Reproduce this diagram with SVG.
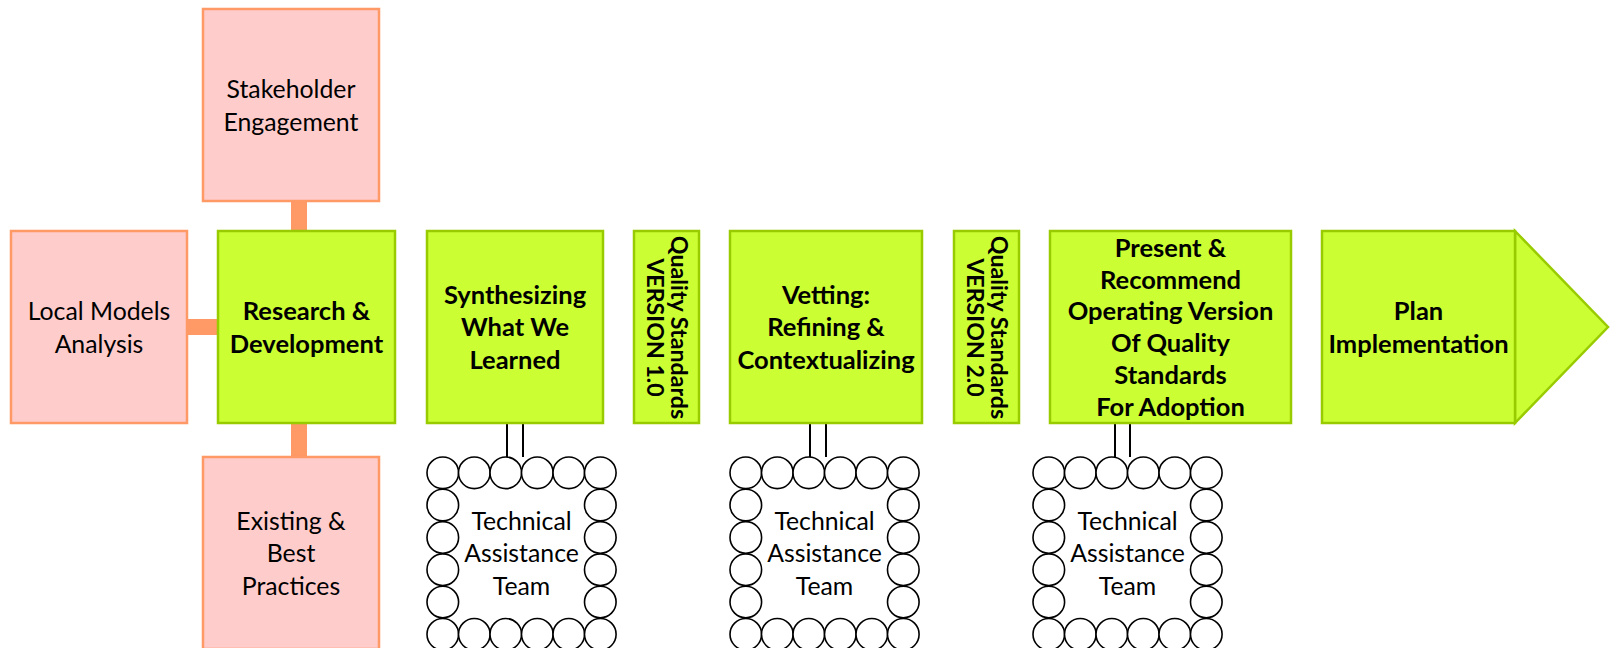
<svg xmlns="http://www.w3.org/2000/svg" xmlns:xlink="http://www.w3.org/1999/xlink" width="1610" height="648" viewBox="0 0 1610 648">
<style>
.pink{fill:#FFCCCC;stroke:#FF9966;stroke-width:2.5}
.green{fill:#CCFF33;stroke:#99CC00;stroke-width:2.5}
.bar{fill:#FF9966;stroke:none}
.ring circle{fill:#FFFFFF;stroke:#000000;stroke-width:1.6}
.wire{stroke:#000000;stroke-width:2;fill:none}
text{font-family:Lato,"Liberation Sans",sans-serif;font-size:24.8px;fill:#000000;text-anchor:middle}
.b{font-weight:bold;font-size:25.5px}
.v{font-size:23.2px;font-weight:bold}
</style>
<defs>
<g id="ring" class="ring">
<circle cx="15.8" cy="15.8" r="15.8"/><circle cx="47.3" cy="15.8" r="15.8"/><circle cx="78.8" cy="15.8" r="15.8"/><circle cx="110.3" cy="15.8" r="15.8"/><circle cx="141.8" cy="15.8" r="15.8"/><circle cx="173.3" cy="15.8" r="15.8"/>
<circle cx="15.8" cy="48.1" r="15.8"/><circle cx="15.8" cy="80.4" r="15.8"/><circle cx="15.8" cy="112.7" r="15.8"/><circle cx="15.8" cy="145" r="15.8"/>
<circle cx="173.3" cy="48.1" r="15.8"/><circle cx="173.3" cy="80.4" r="15.8"/><circle cx="173.3" cy="112.7" r="15.8"/><circle cx="173.3" cy="145" r="15.8"/>
<circle cx="15.8" cy="177.3" r="15.8"/><circle cx="47.3" cy="177.3" r="15.8"/><circle cx="78.8" cy="177.3" r="15.8"/><circle cx="110.3" cy="177.3" r="15.8"/><circle cx="141.8" cy="177.3" r="15.8"/><circle cx="173.3" cy="177.3" r="15.8"/>
</g>
</defs>
<rect width="1610" height="648" fill="#FFFFFF"/>
<g id="connectors">
<rect class="bar" x="291" y="200" width="16" height="32"/>
<rect class="bar" x="186" y="319" width="33" height="16"/>
<rect class="bar" x="291" y="422" width="16" height="36"/>
<line class="wire" x1="507" y1="423" x2="507" y2="457"/><line class="wire" x1="523" y1="423" x2="523" y2="457"/>
<line class="wire" x1="810" y1="423" x2="810" y2="457"/><line class="wire" x1="826" y1="423" x2="826" y2="457"/>
<line class="wire" x1="1115" y1="423" x2="1115" y2="457"/><line class="wire" x1="1130" y1="423" x2="1130" y2="457"/>
</g>
<g id="stakeholder"><rect class="pink" x="203" y="9" width="176" height="192"/>
<text x="291" y="98">Stakeholder</text><text x="291" y="130.5">Engagement</text></g>
<g id="local-models"><rect class="pink" x="11" y="231" width="176" height="192"/>
<text x="99" y="320">Local Models</text><text x="99" y="352.5">Analysis</text></g>
<g id="existing"><rect class="pink" x="203" y="457" width="176" height="192"/>
<text x="291" y="530">Existing &amp;</text><text x="291" y="562">Best</text><text x="291" y="594.5">Practices</text></g>
<g id="research"><rect class="green" x="218" y="231" width="177" height="192"/>
<text class="b" x="306.5" y="320">Research &amp;</text><text class="b" x="306.5" y="352.5">Development</text></g>
<g id="synthesizing"><rect class="green" x="427" y="231" width="176" height="192"/>
<text class="b" x="515" y="303.5">Synthesizing</text><text class="b" x="515" y="336">What We</text><text class="b" x="515" y="368.5">Learned</text></g>
<g id="quality1"><rect class="green" x="634" y="231" width="65" height="192"/>
<g transform="translate(671,327.5) rotate(90)"><text class="v" x="0" y="0">Quality Standards</text><text class="v" x="0" y="24">VERSION 1.0</text></g></g>
<g id="vetting"><rect class="green" x="730" y="231" width="192" height="192"/>
<text class="b" x="826" y="303.5">Vetting:</text><text class="b" x="826" y="336">Refining &amp;</text><text class="b" x="826" y="368.5">Contextualizing</text></g>
<g id="quality2"><rect class="green" x="954" y="231" width="65" height="192"/>
<g transform="translate(991,327.5) rotate(90)"><text class="v" x="0" y="0">Quality Standards</text><text class="v" x="0" y="24">VERSION 2.0</text></g></g>
<g id="present"><rect class="green" x="1050" y="231" width="241" height="192"/>
<text class="b" x="1170.5" y="257">Present &amp;</text><text class="b" x="1170.5" y="288.7">Recommend</text><text class="b" x="1170.5" y="320.4">Operating Version</text><text class="b" x="1170.5" y="352.1">Of Quality</text><text class="b" x="1170.5" y="383.8">Standards</text><text class="b" x="1170.5" y="415.5">For Adoption</text></g>
<g id="plan"><polygon class="green" points="1515,231 1608,327 1515,423"/><rect class="green" x="1322" y="231" width="193" height="192"/>
<text class="b" x="1418.5" y="320">Plan</text><text class="b" x="1418.5" y="352.5">Implementation</text></g>
<g id="ta1"><use xlink:href="#ring" x="427" y="457"/>
<text x="521.5" y="530">Technical</text><text x="521.5" y="562">Assistance</text><text x="521.5" y="594.5">Team</text></g>
<g id="ta2"><use xlink:href="#ring" x="730" y="457"/>
<text x="824.5" y="530">Technical</text><text x="824.5" y="562">Assistance</text><text x="824.5" y="594.5">Team</text></g>
<g id="ta3"><use xlink:href="#ring" x="1033" y="457"/>
<text x="1127.5" y="530">Technical</text><text x="1127.5" y="562">Assistance</text><text x="1127.5" y="594.5">Team</text></g>
</svg>
